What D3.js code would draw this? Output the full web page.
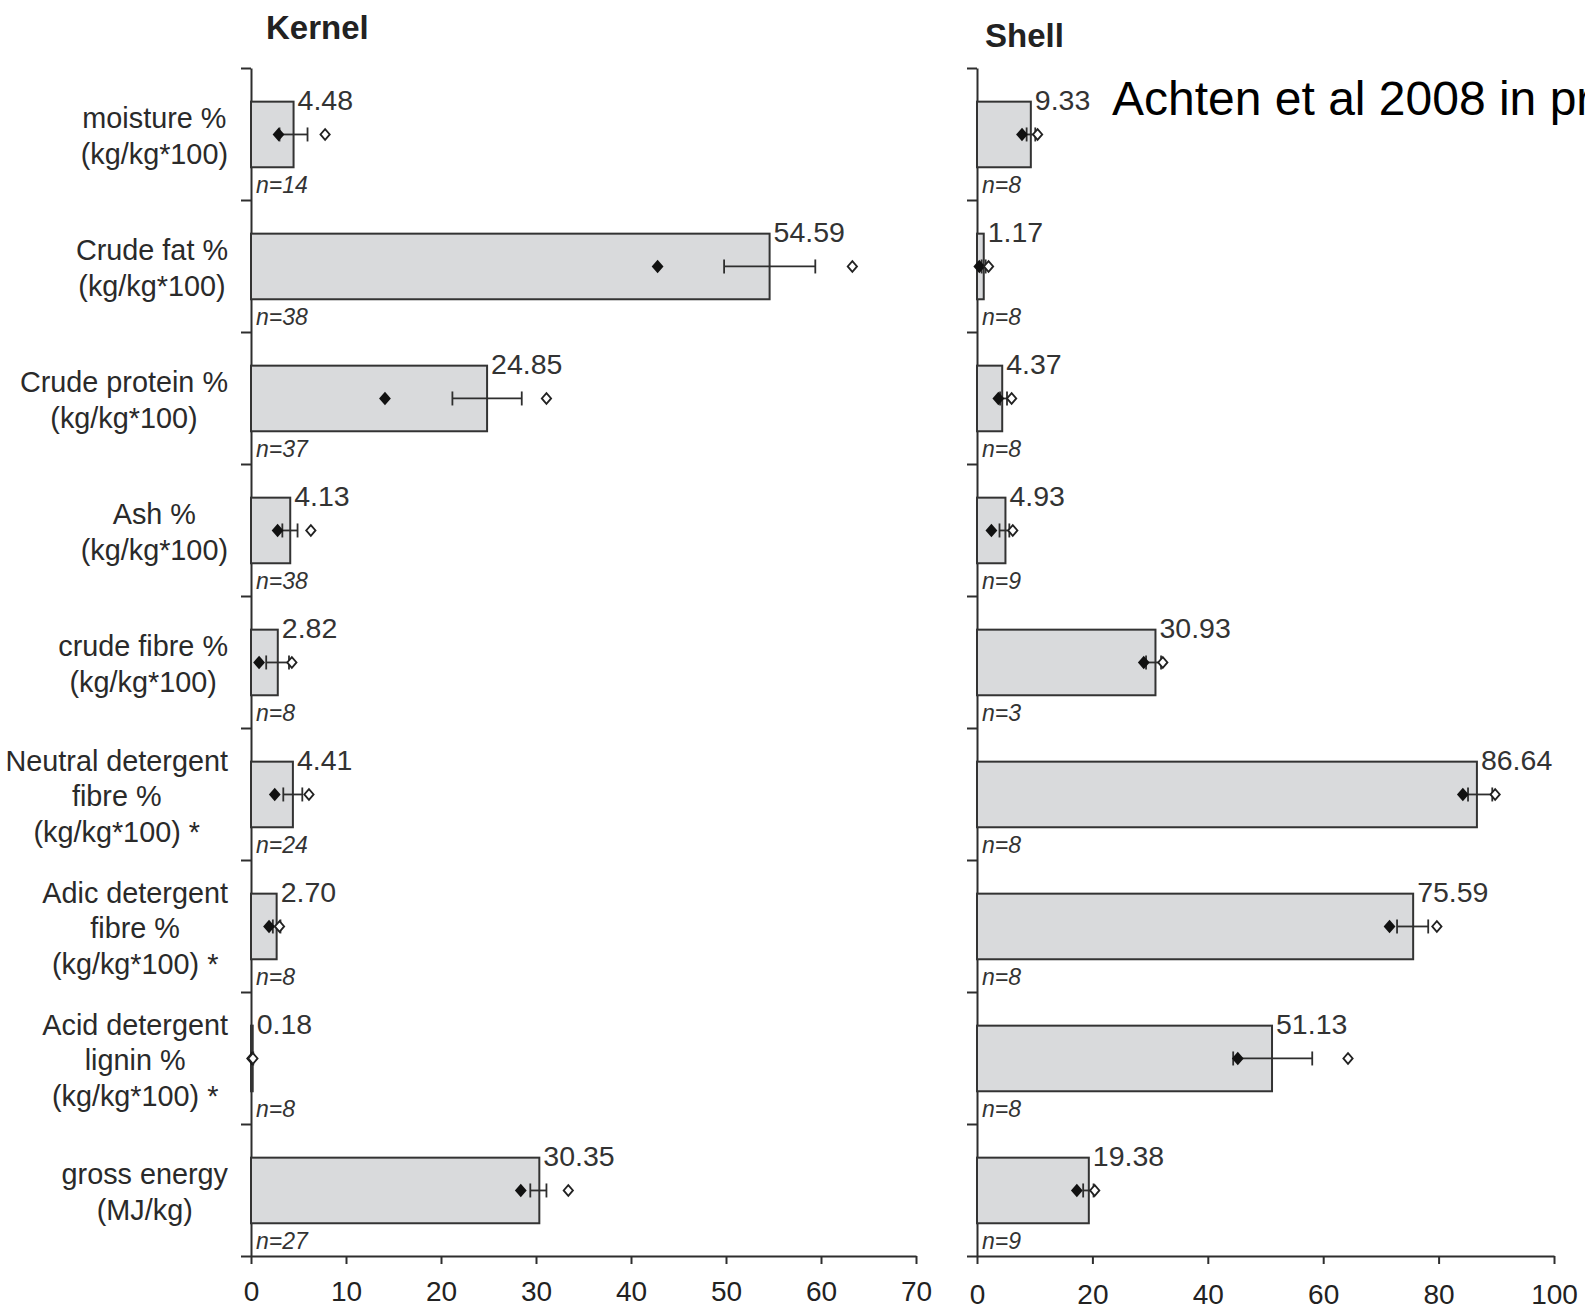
<!DOCTYPE html>
<html>
<head>
<meta charset="utf-8">
<script src="https://cdn.jsdelivr.net/npm/d3@7"></script>
<style>
  html, body { margin: 0; padding: 0; background: #fff; overflow: hidden; }
  svg { display: block; font-family: "Liberation Sans", Arial, sans-serif; }
</style>
</head>
<body>
<div id="chart"></div>
<script>
// category labels, one array of lines per row
const categories = [
    ['moisture %', '(kg/kg*100)'],
    ['Crude fat %', '(kg/kg*100)'],
    ['Crude protein %', '(kg/kg*100)'],
    ['Ash %', '(kg/kg*100)'],
    ['crude fibre %', '(kg/kg*100)'],
    ['Neutral detergent', 'fibre %', '(kg/kg*100) *'],
    ['Adic detergent', 'fibre %', '(kg/kg*100) *'],
    ['Acid detergent', 'lignin %', '(kg/kg*100) *'],
    ['gross energy', '(MJ/kg)']
];

// Kernel
const kernelValues = [4.48, 54.59, 24.85, 4.13, 2.82, 4.41, 2.70, 0.18, 30.35];
const kernelErrLow = [3.0, 49.8, 21.2, 3.3, 1.6, 3.4, 2.3, 0.12, 29.4];
const kernelErrHigh = [5.95, 59.4, 28.5, 4.9, 4.0, 5.4, 3.1, 0.24, 31.1];
const kernelFilled = [2.9, 42.8, 14.1, 2.8, 0.85, 2.5, 1.9, 0.1, 28.4];
const kernelOpen = [7.8, 63.3, 31.1, 6.3, 4.3, 6.1, 3.0, 0.2, 33.4];
const kernelN = [14, 38, 37, 38, 8, 24, 8, 8, 27];
const kernelTicks = [0, 10, 20, 30, 40, 50, 60, 70];

// Shell
const shellValues = [9.33, 1.17, 4.37, 4.93, 30.93, 86.64, 75.59, 51.13, 19.38];
const shellErrLow = [8.6, 0.8, 4.0, 3.9, 29.3, 85.1, 72.8, 44.4, 18.4];
const shellErrHigh = [10.1, 1.5, 5.2, 5.6, 31.9, 89.3, 78.2, 58.1, 20.2];
const shellFilled = [7.8, 0.4, 3.7, 2.5, 28.9, 84.2, 71.5, 45.2, 17.3];
const shellOpen = [10.5, 2.0, 6.0, 6.2, 32.2, 89.8, 79.7, 64.3, 20.4];
const shellN = [8, 8, 8, 9, 3, 8, 8, 8, 9];
const shellTicks = [0, 20, 40, 60, 80, 100];

const width = 1585, height = 1309;
const plotTop = 68, plotBottom = 1256;
const ink = '#2e2e2e';

const svg = d3.select('#chart').append('svg')
    .attr('width', width).attr('height', height);

const rows = d3.range(categories.length);
const y = d3.scaleBand(rows, [plotTop, plotBottom]);
const yTicks = d3.scaleLinear([0, rows.length], [plotTop, plotBottom]);

// diamond shape, a square turned by 45 degrees, a little taller than wide
const diamond = {
    draw(ctx, size) {
        const w = Math.sqrt(size / 2.3), h = w * 1.15;
        ctx.moveTo(0, -h); ctx.lineTo(w, 0); ctx.lineTo(0, h); ctx.lineTo(-w, 0); ctx.closePath();
    }
};

function drawPanel(p) {
    const x = d3.scaleLinear([0, p.max], p.range);
    const g = svg.append('g');

    // left axis with ticks on the row boundaries
    g.append('g')
        .attr('transform', `translate(${p.range[0]},0)`)
        .call(d3.axisLeft(yTicks).tickValues(d3.range(rows.length + 1)).tickFormat('').tickSize(10).tickSizeOuter(0))
        .call(a => a.selectAll('path, line').attr('stroke', ink).attr('stroke-width', 2));

    // bottom axis
    g.append('g')
        .attr('transform', `translate(0,${plotBottom})`)
        .call(d3.axisBottom(x).tickValues(p.ticks).tickSize(8).tickSizeOuter(0).tickPadding(p.pad))
        .call(a => a.selectAll('path, line').attr('stroke', ink).attr('stroke-width', 2))
        .call(a => a.selectAll('text').attr('fill', '#222').style('font-size', '28px'));

    const row = g.selectAll('g.row').data(rows).join('g').classed('row', true);
    const bh = y.bandwidth();

    row.append('rect')
        .attr('x', x(0))
        .attr('y', i => y(i) + bh * 0.255)
        .attr('width', i => x(p.values[i]) - x(0))
        .attr('height', bh * 0.497)
        .attr('fill', '#d9dadc')
        .attr('stroke', '#333')
        .attr('stroke-width', 2);

    const cy = i => y(i) + bh * 0.5035;

    // error bars
    row.append('line')
        .attr('x1', i => x(p.errLow[i])).attr('x2', i => x(p.errHigh[i]))
        .attr('y1', cy).attr('y2', cy)
        .attr('stroke', ink).attr('stroke-width', 1.8);
    [p.errLow, p.errHigh].forEach(arr => {
        row.append('line')
            .attr('x1', i => x(arr[i])).attr('x2', i => x(arr[i]))
            .attr('y1', i => cy(i) - 7).attr('y2', i => cy(i) + 7)
            .attr('stroke', ink).attr('stroke-width', 1.8);
    });

    row.append('path')
        .attr('d', d3.symbol(diamond, 80))
        .attr('transform', i => `translate(${x(p.filled[i])},${cy(i)})`)
        .attr('fill', '#111');

    row.append('path')
        .attr('d', d3.symbol(diamond, 50))
        .attr('transform', i => `translate(${x(p.open[i])},${cy(i)})`)
        .attr('fill', '#fff')
        .attr('stroke', '#222')
        .attr('stroke-width', 1.8);

    // value labels
    row.append('text')
        .attr('x', i => x(p.values[i]) + 4)
        .attr('y', i => y(i) + bh * 0.255 + 8)
        .attr('fill', '#333')
        .style('font-size', '28.5px')
        .text(i => p.values[i].toFixed(2));

    // n labels
    row.append('text')
        .attr('x', x(0) + 5)
        .attr('y', i => y(i) + bh - 7)
        .attr('fill', '#333')
        .style('font-size', '23px')
        .style('font-style', 'italic')
        .text(i => 'n=' + p.n[i]);

    // panel title
    svg.append('text')
        .attr('x', p.titleX).attr('y', p.titleY)
        .attr('fill', '#222')
        .style('font-size', '33px')
        .style('font-weight', 'bold')
        .text(p.title);
}

drawPanel({
    title: 'Kernel', titleX: 266, titleY: 39,
    values: kernelValues, errLow: kernelErrLow, errHigh: kernelErrHigh,
    filled: kernelFilled, open: kernelOpen, n: kernelN,
    ticks: kernelTicks, max: 70, range: [251, 916], pad: 17
});

drawPanel({
    title: 'Shell', titleX: 985, titleY: 47,
    values: shellValues, errLow: shellErrLow, errHigh: shellErrHigh,
    filled: shellFilled, open: shellOpen, n: shellN,
    ticks: shellTicks, max: 100, range: [977, 1554], pad: 20
});

// category labels: lines centred on each other, block right-aligned near the axis
const labelRight = 228, lineGap = 35.5;
categories.forEach((lines, i) => {
    const g = svg.append('g');
    const texts = lines.map((s, k) => g.append('text')
        .attr('y', y(i) + y.bandwidth() / 2 + 12 + (k - (lines.length - 1) / 2) * lineGap)
        .attr('text-anchor', 'middle')
        .attr('fill', '#2a2a2a')
        .style('font-size', '28.8px')
        .text(s));
    const maxW = d3.max(texts, t => t.node().getComputedTextLength());
    texts.forEach(t => t.attr('x', labelRight - maxW / 2));
});

// note in the upper right
svg.append('text')
    .attr('x', 1112).attr('y', 115)
    .attr('fill', '#000')
    .style('font-size', '48px')
    .text('Achten et al 2008 in press');
</script>
</body>
</html>
